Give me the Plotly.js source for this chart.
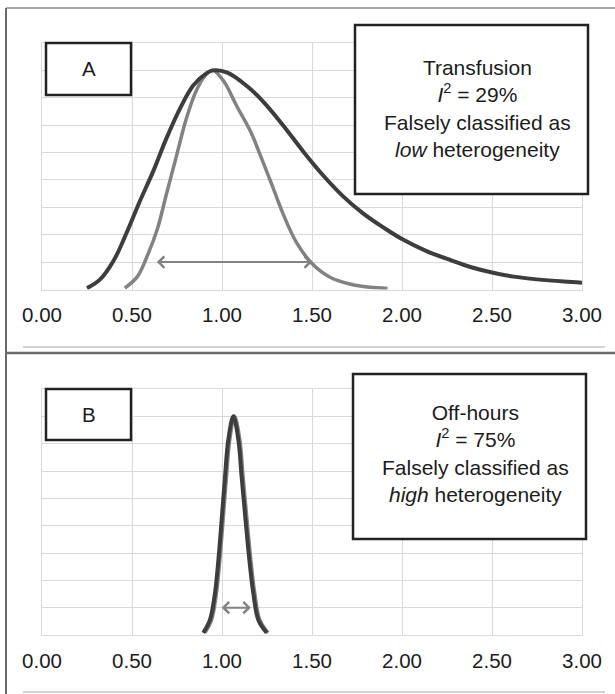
<!DOCTYPE html>
<html>
<head>
<meta charset="utf-8">
<script src="https://cdn.plot.ly/plotly-3.0.1.min.js"></script>
<style>html,body{margin:0;padding:0;background:#fff;}#chart{width:615px;height:694px;}</style>
</head>
<body>
<div id="chart"></div>
<script>
// ---- Data ----
const xTickVals = [0, 0.5, 1, 1.5, 2, 2.5, 3];
const xTickText = ["0.00", "0.50", "1.00", "1.50", "2.00", "2.50", "3.00"];

// Panel A – Transfusion
const aDarkX = [0.25, 0.32, 0.40, 0.47, 0.54, 0.62, 0.69, 0.77, 0.84, 0.915, 0.95, 1.03, 1.14, 1.23, 1.34, 1.45, 1.56, 1.67, 1.78, 1.90, 2.00, 2.13, 2.27, 2.38, 2.50, 2.62, 2.75, 2.90, 3.00];
const aDarkY = [0.05, 0.35, 1.08, 2.07, 3.17, 4.35, 5.5, 6.65, 7.45, 7.9, 8.0, 7.92, 7.42, 6.85, 5.99, 5.05, 4.18, 3.42, 2.8, 2.25, 1.84, 1.42, 1.07, 0.82, 0.62, 0.47, 0.37, 0.29, 0.25];
const aGrayX = [0.46, 0.53, 0.58, 0.64, 0.69, 0.75, 0.80, 0.86, 0.915, 0.95, 1.01, 1.08, 1.16, 1.21, 1.27, 1.34, 1.415, 1.50, 1.60, 1.71, 1.82, 1.92];
const aGrayY = [0.05, 0.47, 1.15, 2.19, 3.45, 4.95, 6.2, 7.3, 7.88, 8.0, 7.6, 6.72, 5.75, 4.95, 3.95, 2.75, 1.7, 0.95, 0.45, 0.2, 0.08, 0.04];
const aArrowX = [0.63, 1.50];
const aArrowY = 1.0;

// Panel B – Off-hours
const bDarkX = [0.896, 0.933, 0.961, 0.98, 0.998, 1.017, 1.035, 1.063, 1.091, 1.109, 1.131, 1.152, 1.174, 1.202, 1.248];
const bDarkY = [0.08, 0.55, 1.53, 2.75, 4.2, 5.8, 7.14, 8.0, 7.14, 5.8, 4.2, 2.75, 1.53, 0.55, 0.08];
const bGrayX = [0.905, 0.942, 0.969, 0.988, 1.006, 1.025, 1.043, 1.070, 1.099, 1.117, 1.139, 1.160, 1.182, 1.210, 1.256];
const bGrayY = [0.08, 0.55, 1.53, 2.75, 4.2, 5.8, 7.14, 8.0, 7.14, 5.8, 4.2, 2.75, 1.53, 0.55, 0.08];
const bArrowX = [0.99, 1.16];
const bArrowY = 1.0;

const panelLetters = ["A", "B"];
const panelTexts = [
  "Transfusion<br><i>I</i><sup>2</sup> = 29%<br>Falsely classified as<br><i>low</i> heterogeneity",
  "Off-hours<br><i>I</i><sup>2</sup> = 75%<br>Falsely classified as<br><i>high</i> heterogeneity"
];

// ---- Layout helpers (pixel -> paper) ----
const W = 615, H = 694;
const px = v => v / W;
const py = v => 1 - v / H;

const DARK = '#3d3d3d', GRAY = '#828282', GRID = '#d9d9d9', TXT = '#1c1c1c';
const FONT = 'Liberation Sans, Arial, sans-serif';

function curve(x, y, color, width, xa, ya) {
  return {x: x, y: y, type: 'scatter', mode: 'lines', xaxis: xa, yaxis: ya,
          line: {color: color, width: width, shape: 'spline', smoothing: 1},
          hoverinfo: 'skip', showlegend: false};
}

const traces = [
  curve(aGrayX, aGrayY, GRAY, 3.5, 'x', 'y'),
  curve(aDarkX, aDarkY, DARK, 4, 'x', 'y'),
  curve(bGrayX, bGrayY, GRAY, 3.5, 'x2', 'y2'),
  curve(bDarkX, bDarkY, DARK, 4, 'x2', 'y2')
];

function xAxis() {
  return {domain: [px(42), px(582)], range: [0, 3], fixedrange: true,
          tickvals: xTickVals, ticktext: xTickText, ticks: '',
          showgrid: true, gridcolor: GRID, gridwidth: 1, zeroline: false,
          showline: true, linecolor: GRID, linewidth: 1, mirror: true,
          ticklabelstandoff: 7,
          tickfont: {family: FONT, size: 20.5, color: TXT}};
}
function yAxis(domain) {
  return {domain: domain, range: [0, 9], dtick: 1, tick0: 0, fixedrange: true,
          showgrid: true, gridcolor: GRID, gridwidth: 1, zeroline: false,
          showticklabels: false, ticks: '', showline: true, linecolor: GRID, mirror: true};
}

const xa1 = xAxis(); xa1.anchor = 'y';
const xa2 = xAxis(); xa2.anchor = 'y2';
const ya1 = yAxis([py(289.5), py(43)]); ya1.anchor = 'x';
const ya2 = yAxis([py(635), py(389)]); ya2.anchor = 'x2';

function rect(x0, y0, x1, y1, w) {
  return {type: 'rect', xref: 'paper', yref: 'paper', x0: px(x0), x1: px(x1), y0: py(y1), y1: py(y0),
          line: {color: '#222', width: w}, fillcolor: '#fff', layer: 'above'};
}
function hline(x0, x1, y, color, w) {
  return {type: 'line', xref: 'paper', yref: 'paper', x0: px(x0), x1: px(x1), y0: py(y), y1: py(y),
          line: {color: color, width: w}, layer: 'above'};
}

const shapes = [
  hline(6, 615, 8, '#8c8c8c', 1.5),
  {type: 'line', xref: 'paper', yref: 'paper', x0: px(6), x1: px(6), y0: py(8), y1: 0,
   line: {color: '#6a6a6a', width: 2}, layer: 'above'},
  hline(23, 605, 347, '#d3d3d3', 2),
  hline(6, 615, 353, '#6a6a6a', 2.5),
  hline(23, 605, 692, '#d3d3d3', 2),
  rect(46, 43, 131, 95, 2.5),
  rect(355, 25, 588, 194, 2.5),
  rect(46, 389, 131, 440, 2.5),
  rect(353, 374, 586, 539, 2.5)
];

function label(text, x, y, size) {
  return {xref: 'paper', yref: 'paper', x: px(x), y: py(y), text: text, showarrow: false,
          xanchor: 'center', yanchor: 'middle', align: 'center',
          font: {family: FONT, size: size, color: TXT}};
}
function arrow(xs, yv, xa, ya) {
  return {xref: xa, yref: ya, axref: xa, ayref: ya, x: xs[1], y: yv, ax: xs[0], ay: yv,
          text: '', showarrow: true, arrowside: 'end+start', arrowhead: 4, startarrowhead: 4,
          arrowsize: 1.1, startarrowsize: 1.1, arrowwidth: 2, arrowcolor: GRAY, standoff: 0, startstandoff: 0};
}

const annotations = [
  label(panelLetters[0], 88.5, 69, 20.5),
  label(panelLetters[1], 88.5, 414, 20.5),
  label(panelTexts[0], 477, 108, 21),
  label(panelTexts[1], 475, 453, 21),
  arrow(aArrowX, aArrowY, 'x', 'y'),
  arrow(bArrowX, bArrowY, 'x2', 'y2')
];

const layout = {
  width: W, height: H, margin: {l: 0, r: 0, t: 0, b: 0},
  paper_bgcolor: '#fff', plot_bgcolor: '#fff', showlegend: false,
  font: {family: FONT, color: TXT},
  xaxis: xa1, yaxis: ya1, xaxis2: xa2, yaxis2: ya2,
  shapes: shapes, annotations: annotations
};

Plotly.newPlot('chart', traces, layout, {displayModeBar: false, staticPlot: true});
</script>
</body>
</html>
